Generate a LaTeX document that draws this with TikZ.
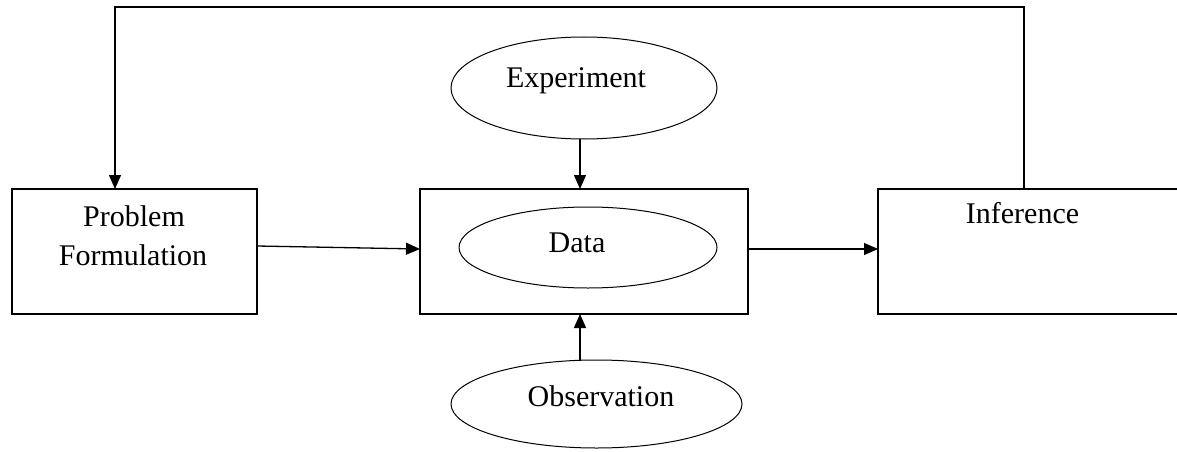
\documentclass[tikz,border=0pt]{standalone}
\usepackage{fontspec}
\setmainfont{Liberation Serif}
\usetikzlibrary{arrows.meta,shapes.geometric}
\begin{document}
\begin{tikzpicture}[x=1pt,y=-1pt,
  line width=1.3pt,
  every node/.style={inner sep=0pt,outer sep=0pt},
  boxnode/.style={draw,rectangle,line width=1.3pt},
  ellnode/.style={draw,ellipse,line width=1pt},
  txt/.style={anchor=base,font=\fontsize{30}{38}\selectfont},
  arr/.style={-{Triangle[length=14pt,width=12pt]},line width=1.3pt}]
\useasboundingbox (0,0) rectangle (1177,452);
\clip (0,0) rectangle (1177,452);
% boxes
\node[boxnode,minimum width=245pt,minimum height=125pt] (prob) at (134.5,251.5) {};
\node[boxnode,minimum width=328pt,minimum height=125pt] (data) at (584,251.5) {};
\node[boxnode,minimum width=312pt,minimum height=125pt] (inf) at (1034,251.5) {};
% ellipses
\node[ellnode,minimum width=266pt,minimum height=102pt] (exp) at (584,88) {};
\node[ellnode,minimum width=258pt,minimum height=81pt] (dat) at (588,247.5) {};
\node[ellnode,minimum width=291pt,minimum height=88pt] (obs) at (596.5,404) {};
% texts
\node[txt] (tprob) at (134,226) {Problem};
\node[txt] (tform) at (133,265) {Formulation};
\node[txt] (texp) at (576,87) {Experiment};
\node[txt] (tdat) at (577,252) {Data};
\node[txt] (tobs) at (601,406) {Observation};
\node[txt] (tinf) at (1022.5,223) {Inference};
% helper coordinates
\coordinate (vx) at (580,0);
\coordinate (c1) at (1024,7);
\coordinate (c2) at (115,7);
% connectors
\draw[arr] ([yshift=5.5pt]prob.east) -- ([yshift=2.5pt]data.west);
\draw[arr] ([yshift=2.5pt]data.east) -- ([yshift=2.5pt]inf.west);
\draw[arr] (exp.south -| vx) -- (data.north -| vx);
\draw[arr] (obs.north -| vx) -- (data.south -| vx);
\draw[arr] (c1 |- inf.north) -- (c1) -- (c2) -- (c2 |- prob.north);
\end{tikzpicture}
\end{document}
